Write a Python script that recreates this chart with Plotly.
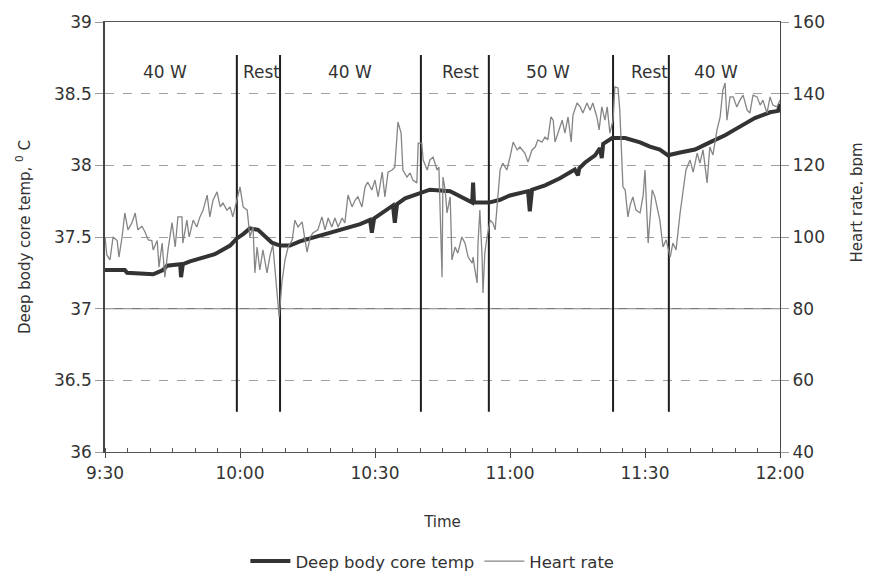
import plotly.graph_objects as go

# ---- data (time in minutes after 9:30) ----
hr_time = [0, 0.4, 1.1, 1.8, 2.7, 3.1, 3.8, 4.4, 5.1, 6.0, 6.7, 7.3, 8.2, 8.9, 9.6, 10.4, 10.7, 11.6, 12.0, 12.7,
           13.3, 14.0, 14.9, 15.6, 16.2, 17.1, 17.3, 18.2, 18.7, 19.6, 20.4, 21.1, 21.8, 22.7, 23.3, 24.0, 24.9, 25.6,
           26.2, 27.1, 27.8, 28.4, 29.3, 30.0, 30.7, 31.6, 32.2, 32.9, 33.3, 33.8, 34.4, 35.1, 36.0, 36.7, 37.3, 38.2,
           38.7, 39.3, 40.0, 40.7, 41.6, 42.2, 42.9, 43.8, 44.4, 44.9, 45.6, 46.2, 47.3, 48.2, 48.9, 49.6, 50.4, 51.1,
           51.8, 52.7, 53.3, 54.0, 54.9, 55.6, 56.2, 57.1, 57.8, 58.4, 59.3, 60.0, 60.7, 61.6, 62.2, 62.9, 63.8, 64.4,
           65.1, 65.8, 66.2, 67.1, 67.8, 68.4, 69.3, 69.6, 70.4, 70.7, 71.6, 72.2, 72.9, 73.8, 74.2, 74.9, 75.1, 75.6,
           76.0, 76.7, 77.1, 77.8, 78.4, 79.3, 80.0, 80.7, 81.6, 81.8, 82.2, 82.7, 82.9, 83.3, 83.8, 84.0, 84.4, 84.9,
           85.6, 86.2, 86.7, 87.3, 87.8, 88.4, 89.3, 90.0, 90.7, 91.6, 92.2, 93.3, 94.0, 94.9, 95.6, 96.2, 97.1, 97.8,
           98.4, 99.1, 99.6, 100.0, 100.7, 101.6, 102.2, 102.9, 103.6, 104.0, 104.9, 105.6, 106.2, 107.1, 107.8, 108.4,
           109.3, 109.8, 110.4, 111.1, 111.6, 112.2, 112.9, 113.3, 114.0, 114.4, 115.1, 115.6, 116.2, 116.7, 117.3,
           118.0, 118.9, 119.6, 120.0, 120.7, 121.6, 122.2, 123.3, 124.0, 124.7, 125.6, 126.2, 126.9, 127.8, 128.4,
           129.1, 130.0, 130.7, 131.6, 132.2, 132.9, 133.8, 134.4, 135.1, 136.0, 136.7, 137.3, 137.8, 138.2, 138.9,
           139.6, 140.4, 141.1, 141.8, 142.7, 143.3, 144.0, 144.9, 145.6, 146.2, 147.1, 147.8, 148.4, 149.3, 150.0]
heart_rate = [100, 95, 93.6, 100, 99, 94.4, 100, 106.7, 102, 104, 106.7, 102, 103, 101.4, 99.2, 99, 96.4, 99, 91.6, 98.3,
              88.8, 96.4, 104, 97.2, 105.6, 105.6, 98.3, 104.7, 100, 104.7, 102.8, 105.6, 107.5, 111.7, 105.6, 110.3,
              112.6, 108.4, 109.5, 107.5, 108.4, 105.6, 110.3, 114, 108.4, 107.5, 100, 102.8, 90, 97.2, 90.8, 96.4, 90,
              95, 97.8, 86, 77.7, 87.2, 93.6, 97.2, 99.2, 104.7, 102.8, 104.2, 100, 95.8, 100, 101.1, 102, 105.6, 102,
              105.3, 102.8, 105.3, 102.8, 105.3, 103.9, 111.7, 108.4, 110.3, 111.2, 108.4, 114, 115.3, 113.1, 115.9,
              111.2, 118.1, 111.2, 118.1, 118.7, 119.5, 132.1, 129, 118.7, 116.7, 117.9, 115.9, 115.1, 126.2, 126.2,
              121.5, 118.7, 121.5, 122.3, 118.7, 119.5, 88.8, 116.7, 113.1, 106.7, 111.2, 93.6, 97.2, 95.5, 100, 98.3,
              94.4, 92.7, 94.4, 90.8, 87.2, 98.3, 107.5, 94.4, 84.4, 95.5, 100, 104.7, 103.9, 102, 111.2, 118.7, 120.6,
              118.7, 122.3, 126.5, 124.3, 125.1, 123.4, 120.9, 124.3, 125.1, 127.1, 126.5, 127.9, 127.1, 133.5, 132.6,
              126.5, 129, 132.6, 129, 133.5, 126.5, 134, 137.4, 136.3, 134.6, 137.4, 135.4, 137.4, 133.5, 129.9, 136.3,
              132.6, 136.3, 129, 132.6, 141.9, 141.6, 135.4, 114, 113.1, 105.6, 108.9, 111.2, 107.5, 106.7, 111.7,
              118.7, 98.3, 113.1, 111.2, 104.7, 97.2, 99.2, 94.4, 98.3, 96.4, 106.7, 111.7, 118.7, 121.5, 118.1, 123.4,
              120.6, 124.3, 115.1, 125.1, 122.9, 129.9, 133.5, 141, 143, 132.6, 139.1, 139.1, 136.3, 138.2, 139.6,
              135.4, 134.6, 139.6, 139.1, 136.8, 138.2, 134.6, 139.1, 136.8, 136.3, 138.2]

temp_time = [0, 4.4, 4.9, 10.7, 12.2, 12.9, 13.8, 15.8, 16.7, 16.9, 17.3, 18.9, 21.1, 24.4, 27.8, 29.3, 30.7, 32.2,
             34.0, 35.6, 37.1, 38.9, 41.1, 43.3, 45.6, 47.8, 50.0, 52.2, 54.4, 56.7, 58.9, 59.3, 59.8, 62.2, 64.0,
             64.4, 64.9, 66.7, 70.0, 72.2, 76.7, 78.4, 80.2, 81.6, 81.8, 82.0, 85.3, 87.8, 90.0, 94.0, 94.4, 94.9,
             97.8, 101.1, 104.4, 105.1, 105.4, 106.7, 108.9, 110.0, 110.4, 110.7, 112.7, 115.6, 118.9, 121.1, 123.3,
             125.1, 127.8, 131.1, 134.4, 137.8, 141.1, 144.4, 147.8, 149.6, 150.0]
core_temp = [37.27, 37.27, 37.25, 37.24, 37.26, 37.27, 37.30, 37.31, 37.31, 37.22, 37.31, 37.33, 37.35, 37.38, 37.44,
             37.49, 37.52, 37.56, 37.55, 37.50, 37.46, 37.44, 37.44, 37.47, 37.49, 37.51, 37.53, 37.55, 37.57, 37.59,
             37.62, 37.53, 37.63, 37.68, 37.72, 37.60, 37.73, 37.77, 37.81, 37.83, 37.82, 37.79, 37.76, 37.74, 37.88,
             37.74, 37.74, 37.76, 37.79, 37.82, 37.68, 37.83, 37.86, 37.91, 37.97, 37.93, 37.98, 38.02, 38.07, 38.12,
             38.05, 38.15, 38.19, 38.19, 38.16, 38.13, 38.11, 38.07, 38.09, 38.11, 38.16, 38.21, 38.27, 38.33, 38.37,
             38.38, 38.43]

phase_bounds = [29.3, 38.9, 70.2, 85.3, 112.9, 125.3]
bound_low, bound_high = 36.28, 38.77
phase_names = ["40 W", "Rest", "40 W", "Rest", "50 W", "Rest", "40 W"]
phase_label_x = [13.3, 34.7, 54.4, 78.9, 98.4, 121.1, 135.8]
phase_label_y = 38.65

tick_vals = [0, 30, 60, 90, 120, 150]
tick_text = ["9:30", "10:00", "10:30", "11:00", "11:30", "12:00"]

FONT = "DejaVu Sans"
TXT = "#333333"

fig = go.Figure()

# phase boundary lines
bx, by = [], []
for b in phase_bounds:
    bx += [b, b, None]
    by += [bound_low, bound_high, None]
fig.add_trace(go.Scatter(x=bx, y=by, mode="lines", line=dict(color="#1e1e1e", width=2),
                         showlegend=False, hoverinfo="skip"))

fig.add_trace(go.Scatter(x=temp_time, y=core_temp, mode="lines", name="Deep body core temp",
                         line=dict(color="#333333", width=4)))
fig.add_trace(go.Scatter(x=hr_time, y=heart_rate, mode="lines", name="Heart rate",
                         line=dict(color="#858585", width=1.3), yaxis="y2"))

for name, x in zip(phase_names, phase_label_x):
    fig.add_annotation(x=x, y=phase_label_y, text=name, showarrow=False,
                       font=dict(family=FONT, size=17, color=TXT), xref="x", yref="y")

fig.add_annotation(x=1.114, y=0.58, xref="paper", yref="paper", text="Heart rate, bpm",
                   xanchor="center", yanchor="middle",
                   textangle=-90, showarrow=False, font=dict(family=FONT, size=15, color=TXT))

fig.add_shape(type="line", xref="x", yref="y", x0=0, x1=150, y0=37, y1=37,
              line=dict(color="#7a7a7a", width=1.2), layer="below")

fig.update_layout(
    width=863, height=565,
    margin=dict(l=97, r=91, t=14, b=121, autoexpand=False),
    paper_bgcolor="white", plot_bgcolor="white",
    font=dict(family=FONT, color=TXT),
    xaxis=dict(range=[0, 150], tickvals=tick_vals, ticktext=tick_text, automargin=False,
               tickfont=dict(size=17, color=TXT), ticks="outside", ticklen=5, tickcolor="#444",
               showline=True, linecolor="#555", linewidth=1.3, mirror=True, showgrid=False, zeroline=False,
               minor=dict(ticks="inside", dtick=5, tick0=0, ticklen=4, tickcolor="#555"),
               title=dict(text="Time", font=dict(size=15, color=TXT), standoff=34)),
    yaxis=dict(range=[36, 39], dtick=0.5, tickfont=dict(size=17, color=TXT), ticks="outside", ticklen=8,
               tickcolor="#999", showline=True, linecolor="#444", linewidth=1.5, zeroline=False, automargin=False,
               showgrid=True, gridcolor="#a0a0a0", griddash="dash", gridwidth=1,
               title=dict(text="Deep body core temp, <sup>0</sup> C", font=dict(size=15, color=TXT), standoff=20)),
    yaxis2=dict(range=[40, 160], dtick=20, overlaying="y", side="right", tickfont=dict(size=17, color=TXT),
                ticks="outside", ticklen=8, tickcolor="#999", showline=True, linecolor="#444", linewidth=1.3,
                showgrid=False, zeroline=False, automargin=False),
    legend=dict(orientation="h", x=0.485, xanchor="center", y=-0.295, yanchor="bottom",
                font=dict(size=16.5, color=TXT), bgcolor="rgba(0,0,0,0)", itemwidth=40,
                traceorder="normal"),
    showlegend=True,
)

fig.write_html("out.html")
